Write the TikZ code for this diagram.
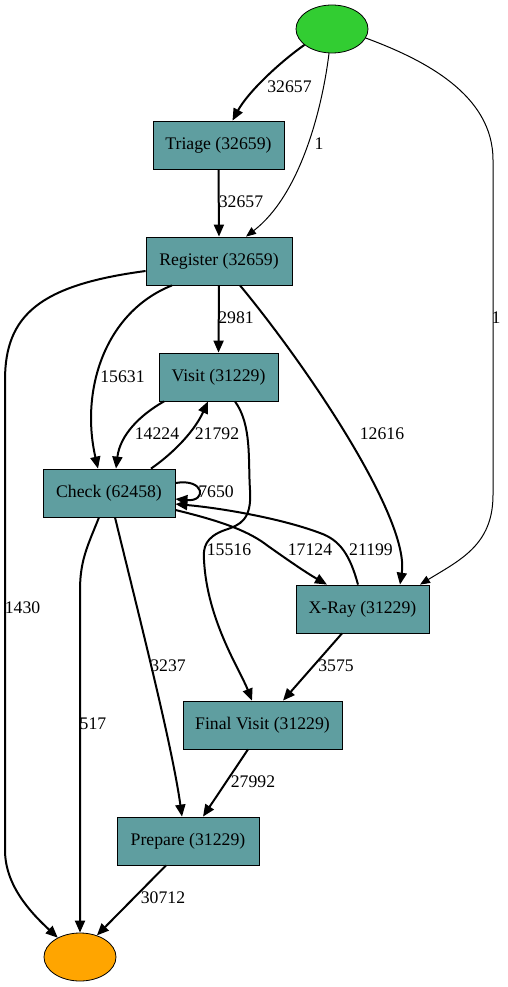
\documentclass[tikz,border=0pt]{standalone}
\usepackage{fontspec}
\setmainfont{Liberation Serif}
\usetikzlibrary{shapes.geometric,arrows.meta,calc}
\definecolor{cadet}{HTML}{5F9EA0}
\definecolor{limeg}{HTML}{32CD32}
\definecolor{orng}{HTML}{FFA500}
\begin{document}
\begin{tikzpicture}[x=1pt,y=-1pt,
 box/.style={draw=black, line width=0.8pt, fill=cadet, minimum height=48pt, inner sep=0pt, font=\fontsize{17.7}{20}\selectfont},
 lbl/.style={inner sep=0pt, font=\fontsize{17.7}{20}\selectfont},
 ell/.style={ellipse, draw=black, line width=0.8pt, minimum width=72pt, minimum height=48pt, inner sep=0pt},
 heavy/.style={line width=2pt, -{Triangle[length=12pt,width=10pt]}},
 light/.style={line width=1pt, -{Triangle[length=10pt,width=8pt]}}]
\useasboundingbox (0,0) rectangle (508,987);
\node[ell, fill=limeg] (start) at (332,29) {};
\node[box, minimum width=131pt] (triage) at (218.5,145) {Triage (32659)};
\node[box, minimum width=146pt] (reg) at (219,261) {Register (32659)};
\node[box, minimum width=119pt] (visit) at (218.5,377) {Visit (31229)};
\node[box, minimum width=132pt] (check) at (109,493) {Check (62458)};
\node[box, minimum width=133pt] (xray) at (362.5,609) {X-Ray (31229)};
\node[box, minimum width=159pt] (final) at (262.5,725) {Final Visit (31229)};
\node[box, minimum width=142pt] (prep) at (188,841) {Prepare (31229)};
\node[ell, fill=orng] (endn) at (80,957) {};
% edges
\draw[heavy] (start.210) .. controls (280,62) and (248,92) .. ([xshift=14pt]triage.north);
\draw[light] (start.263) .. controls (322,110) and (300,195) .. ([xshift=27pt]reg.north);
\draw[light] (start.-15) .. controls (425,60) and (493,95) .. (493,160) -- (493,495) .. controls (493,545) and (460,560) .. ([xshift=57.5pt]xray.north);
\draw[heavy] (triage.south) -- (reg.north);
\draw[heavy] (reg.south) -- (visit.north);
\draw[heavy] ([xshift=-47pt]reg.south) .. controls (105,312) and (80,390) .. ([xshift=-11pt]check.north);
\draw[heavy] ([xshift=21pt]reg.south) .. controls (310,370) and (410,520) .. ([xshift=37.5pt]xray.north);
\draw[heavy] ([yshift=-10pt]reg.west) .. controls (40,285) and (5,315) .. (5,380) -- (5,850) .. controls (5,885) and (30,912) .. (endn.139);
\draw[heavy] ([xshift=-54.5pt]visit.south) .. controls (140,415) and (120,435) .. ([xshift=7pt]check.north);
\draw[heavy] ([xshift=42pt]check.north) .. controls (175,452) and (195,430) .. ([xshift=-10.5pt]visit.south);
\draw[heavy] ([xshift=16.5pt]visit.south) .. controls (252,425) and (248,460) .. (250,490) .. controls (252,520) and (240,525) .. (225,530) .. controls (205,537) and (203,548) .. (204,560) .. controls (207,620) and (240,670) .. ([xshift=-10.5pt]final.north);
\draw[heavy] ([yshift=10pt]check.east) .. controls (205,478) and (207,502) .. ([yshift=-6pt]check.east);
\draw[heavy] ([yshift=-17pt]check.east) .. controls (225,522) and (250,532) .. (268,546) .. controls (285,558) and (305,572) .. ([xshift=-35.5pt]xray.north);
\draw[heavy] ([xshift=-4.5pt]xray.north) .. controls (350,555) and (340,540) .. (320,533) .. controls (280,518) and (220,508) .. ([yshift=-11pt]check.east);
\draw[heavy] ([xshift=-10pt]check.south) .. controls (88,545) and (80,560) .. (80,590) -- (endn.north);
\draw[heavy] ([xshift=6pt]check.south) .. controls (140,620) and (172,745) .. ([xshift=-6pt]prep.north);
\draw[heavy] ([xshift=-20.5pt]xray.south) -- ([xshift=20.5pt]final.north);
\draw[heavy] ([xshift=-14.5pt]final.south) -- ([xshift=15pt]prep.north);
\draw[heavy] ([xshift=-22pt]prep.south) -- (endn.52);
% labels
\node[lbl] (l1) at (289.5,87) {32657};
\node[lbl] (l2) at (319,144) {1};
\node[lbl] (l3) at (496,318) {1};
\node[lbl] (l4) at (241,202) {32657};
\node[lbl] (l5) at (236,318) {2981};
\node[lbl] (l6) at (122.5,377) {15631};
\node[lbl] (l7) at (382,434) {12616};
\node[lbl] (l8) at (22.5,608) {1430};
\node[lbl] (l9) at (157,434) {14224};
\node[lbl] (l10) at (217,434) {21792};
\node[lbl] (l11) at (229,550) {15516};
\node[lbl] (l12) at (216,492) {7650};
\node[lbl] (l13) at (310,550) {17124};
\node[lbl] (l14) at (371,550) {21199};
\node[lbl] (l15) at (93,724) {517};
\node[lbl] (l16) at (168,666) {3237};
\node[lbl] (l17) at (336,666) {3575};
\node[lbl] (l18) at (253,782) {27992};
\node[lbl] (l19) at (163,898) {30712};
\end{tikzpicture}
\end{document}
